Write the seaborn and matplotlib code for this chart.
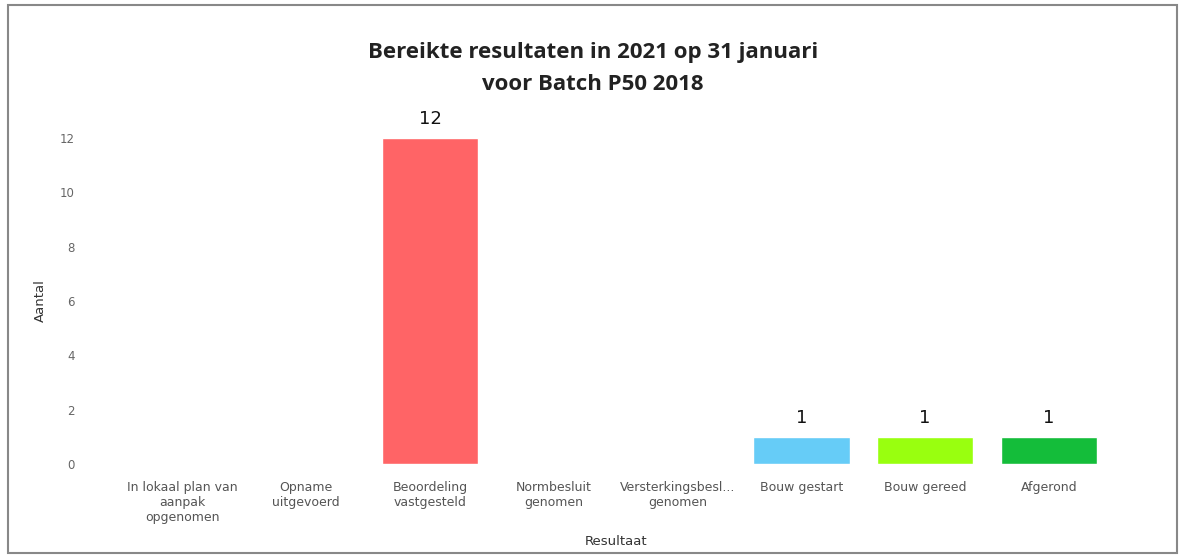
import matplotlib
matplotlib.use("Agg")
import matplotlib.pyplot as plt
import seaborn as sns
import pandas as pd
from matplotlib.patches import Rectangle

categories = ["In lokaal plan van\naanpak\nopgenomen", "Opname\nuitgevoerd", "Beoordeling\nvastgesteld",
              "Normbesluit\ngenomen", "Versterkingsbesl...\ngenomen", "Bouw gestart", "Bouw gereed", "Afgerond"]
values = [0, 0, 12, 0, 0, 1, 1, 1]
colors = ["#FF6466", "#FF6466", "#FF6466", "#FF6466", "#FF6466", "#66CCF7", "#99FF0F", "#14BD3A"]
yticks = [0, 2, 4, 6, 8, 10, 12]
title = "Bereikte resultaten in 2021 op 31 januari\nvoor Batch P50 2018"

sns.set_theme(style="white")
plt.rcParams['font.family'] = ['DejaVu Sans']

df = pd.DataFrame({"Resultaat": categories, "Aantal": values})

fig = plt.figure(figsize=(11.86, 5.58), dpi=100)
ax = fig.add_axes([0.1016, 0.1685, 0.835, 0.5842])
sns.barplot(data=df, x="Resultaat", y="Aantal", hue="Resultaat",
            palette=dict(zip(categories, colors)), legend=False, width=0.78,
            saturation=1, ax=ax)
ax.set_ylim(0, 12)
ax.set_yticks(yticks)
for s in ax.spines.values():
    s.set_visible(False)
ax.tick_params(axis='y', length=0, pad=33, labelsize=8.5, labelcolor="#666666")
ax.tick_params(axis='x', length=0, pad=12, labelsize=9, labelcolor="#555555")
for lbl in ax.get_yticklabels():
    lbl.set_horizontalalignment('right')
ax.set_ylabel("Aantal", fontsize=9.5, color="#333333", labelpad=9)
ax.set_xlabel("Resultaat", fontsize=9.5, color="#333333", labelpad=8)
for lbl in ax.get_xticklabels():
    lbl.set_linespacing(1.2)

for i, v in enumerate(values):
    if v > 0:
        ax.annotate(str(v), (i, v), xytext=(0, 7), textcoords="offset points",
                    ha="center", va="bottom", fontsize=13, color="#111111", clip_on=False)

fig.text(0.5, 0.925, title, ha="center", va="top", fontsize=16, fontweight="bold",
         color="#222222", family=["Open Sans", "DejaVu Sans"], linespacing=1.7)

fig.patches.append(Rectangle((8/1186, 5/558), 1169/1186, 548/558, transform=fig.transFigure,
                             fill=False, edgecolor="#888888", linewidth=1.5))

fig.savefig("out.png", dpi=100)
